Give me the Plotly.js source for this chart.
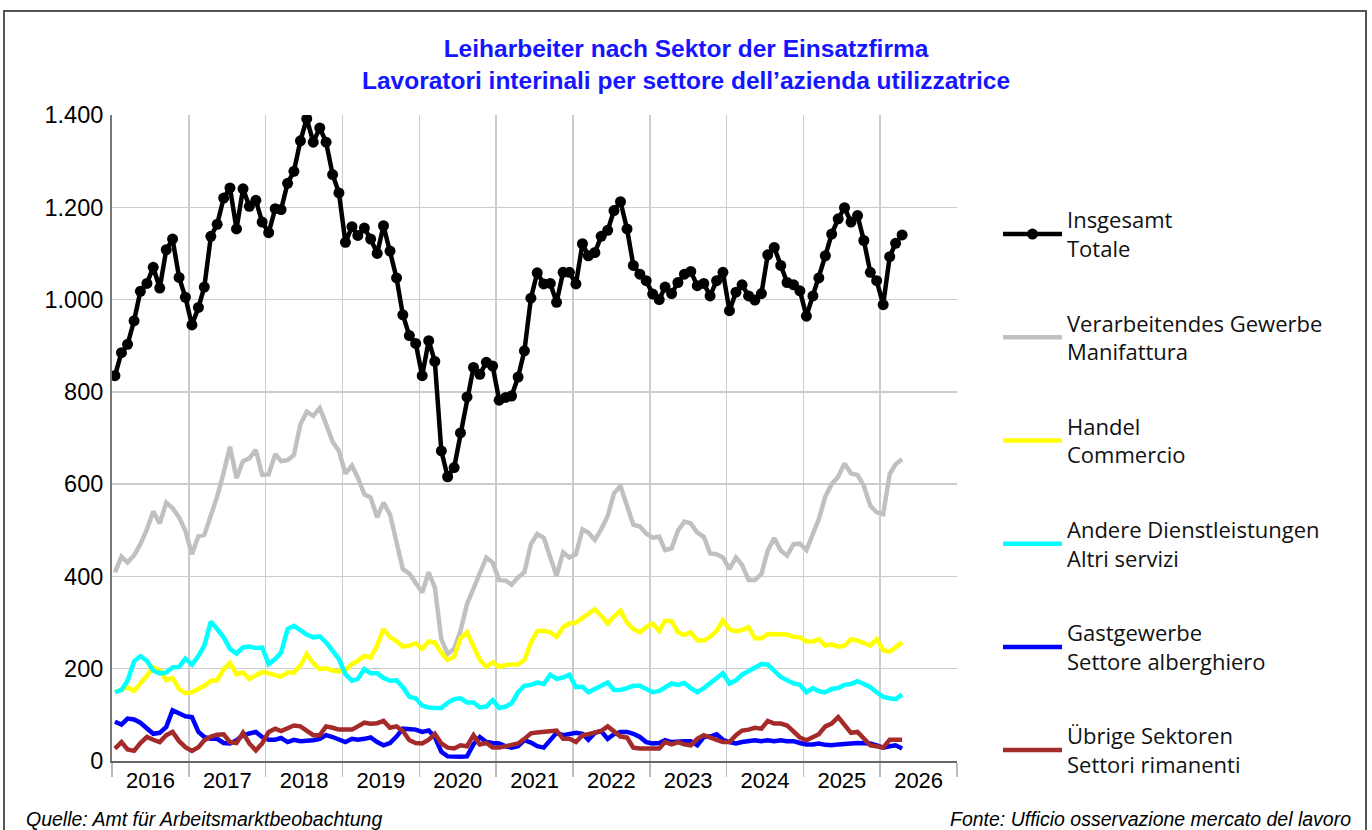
<!DOCTYPE html>
<html>
<head>
<meta charset="utf-8">
<script src="https://cdn.plot.ly/plotly-3.0.1.min.js"></script>
<style>
  html, body { margin: 0; padding: 0; background: #ffffff; }
  #wrap { position: relative; width: 1372px; height: 830px; overflow: hidden; }
  #frame { position: absolute; left: 3px; top: 10px; width: 1364px; height: 840px; border: 2px solid #555555; box-sizing: border-box; pointer-events: none; }
  #chart { position: absolute; left: 0; top: 0; width: 1372px; height: 830px; }
</style>
</head>
<body>
<div id="wrap">
  <div id="chart"></div>
  <div id="frame"></div>
</div>
<script>
// Monthly series, January 2016 - April 2026
const startYear = 2016;
const monthCount = 124;

const total = [835,885,903,954,1018,1035,1070,1025,1108,1131,1048,1005,
  945,983,1027,1137,1163,1220,1242,1153,1240,1202,1215,1168,
  1145,1197,1195,1252,1278,1344,1392,1341,1372,1341,1271,1231,
  1124,1158,1139,1155,1131,1100,1160,1105,1047,967,922,905,
  835,911,866,672,616,636,711,789,853,838,864,856,
  782,788,791,832,889,1003,1058,1034,1035,994,1059,1059,
  1034,1121,1095,1102,1137,1150,1193,1212,1153,1074,1055,1041,
  1012,1000,1027,1013,1037,1055,1061,1030,1035,1008,1041,1059,
  976,1016,1032,1008,999,1013,1097,1113,1074,1037,1032,1019,
  964,1008,1047,1095,1142,1175,1199,1168,1182,1128,1059,1041,
  989,1093,1122,1140];

const manufacturing = [409,443,430,446,470,502,541,515,560,548,528,499,
  448,487,490,531,573,625,681,613,650,656,674,620,
  621,665,650,652,663,730,757,748,765,730,692,672,
  623,640,614,578,571,528,560,534,470,416,406,387,
  365,409,376,264,232,243,282,340,376,409,441,430,
  392,391,382,398,409,470,492,484,441,401,452,441,
  448,502,495,479,502,531,580,596,553,512,508,493,
  484,486,457,461,499,519,515,495,486,450,448,441,
  416,441,425,392,392,405,456,483,456,445,470,471,
  457,492,524,573,600,616,645,623,620,596,553,539,
  535,622,643,654];

const trade = [149,156,160,152,167,185,203,196,175,180,156,147,
  149,156,163,174,175,199,212,188,192,178,187,193,
  190,186,183,192,192,207,232,212,199,201,196,194,
  197,210,217,228,224,250,286,268,260,248,250,255,
  243,259,257,235,219,226,266,279,246,219,204,214,
  204,208,209,209,219,257,281,282,279,269,290,298,
  300,311,320,329,315,298,313,326,300,286,279,290,
  298,282,304,303,279,273,279,262,261,269,282,305,
  286,281,284,290,266,266,275,274,273,274,269,268,
  259,259,264,250,253,248,250,264,261,255,250,264,
  240,237,246,257];

const otherServices = [149,154,174,216,227,217,196,190,192,203,204,222,
  209,228,250,302,286,268,243,233,246,248,245,246,
  210,221,235,286,293,282,274,268,270,257,240,221,
  188,174,178,199,190,190,180,174,175,160,139,136,
  120,116,115,115,126,134,136,127,127,116,118,132,
  115,118,125,149,163,165,170,167,187,178,181,187,
  160,161,149,156,163,170,154,154,158,163,163,156,
  149,152,161,168,165,169,158,149,158,168,181,190,
  168,175,187,194,203,210,209,197,182,175,168,165,
  149,158,151,149,156,158,165,167,173,167,160,149,
  139,136,134,144];

const hospitality = [85,79,92,90,83,70,59,61,74,110,104,97,
  95,63,52,48,48,39,38,45,56,59,63,52,
  46,46,50,41,46,43,43,45,48,56,52,46,
  41,48,46,48,51,41,34,39,53,70,70,68,
  63,66,52,20,10,9,9,10,36,52,41,39,
  38,32,29,32,45,40,32,29,46,61,56,58,
  61,59,46,61,65,48,58,63,63,59,52,41,
  38,39,45,41,43,43,43,34,52,53,58,46,
  41,38,41,43,45,43,45,43,45,43,43,39,
  36,36,38,35,34,36,38,38,39,39,38,34,
  29,32,34,27];

const otherSectors = [27,41,25,22,39,52,46,41,56,63,43,30,
  22,30,45,53,57,58,41,39,61,38,23,38,
  63,70,65,72,77,75,65,56,56,75,72,68,
  68,68,75,83,81,82,87,72,75,65,45,39,
  38,46,59,38,29,27,34,32,56,36,39,29,
  29,32,36,38,48,60,62,63,66,66,48,48,
  41,56,58,61,65,75,63,53,51,29,27,27,
  27,27,41,36,41,36,34,48,56,52,46,41,
  41,56,66,68,72,70,87,81,81,77,65,51,
  45,53,58,75,81,95,77,61,63,48,34,32,
  29,46,47,46];

const seriesNames = [
  "Insgesamt<br>Totale",
  "Verarbeitendes Gewerbe<br>Manifattura",
  "Handel<br>Commercio",
  "Andere Dienstleistungen<br>Altri servizi",
  "Gastgewerbe<br>Settore alberghiero",
  "Übrige Sektoren<br>Settori rimanenti"
];
const seriesColors = ["#000000", "#c0c0c0", "#ffff00", "#00ffff", "#0000ff", "#a52a2a"];

// month axis (mid-month positions)
const months = [];
for (let k = 0; k < monthCount; k++) {
  const y = startYear + Math.floor(k / 12);
  const m = (k % 12) + 1;
  months.push(y + "-" + (m < 10 ? "0" + m : m) + "-15");
}

const values = [total, manufacturing, trade, otherServices, hospitality, otherSectors];

function lineTrace(idx) {
  return {
    type: "scatter",
    mode: "lines",
    x: months,
    y: values[idx],
    name: seriesNames[idx],
    legendgroup: "g" + idx,
    legendrank: idx + 1,
    line: { color: seriesColors[idx], width: 4.5 },
    hoverinfo: "x+y+name"
  };
}

const traces = [1, 2, 3, 4, 5].map(lineTrace);
traces.push({
  type: "scatter",
  mode: "lines+markers",
  x: months,
  y: total,
  name: seriesNames[0],
  legendgroup: "g0",
  legendrank: 1,
  line: { color: "#000000", width: 4.5 },
  marker: { color: "#000000", size: 11, symbol: "circle" }
});

const W = 1372, H = 830;
const L = 112, R = W - 957, T = 115, B = H - 761;

const layout = {
  width: W,
  height: H,
  margin: { l: L, r: R, t: T, b: B, pad: 0 },
  paper_bgcolor: "#ffffff",
  plot_bgcolor: "#ffffff",
  separators: ",.",
  font: { family: "Liberation Sans, Arial, sans-serif", color: "#000000", size: 20 },
  title: {
    text: "Leiharbeiter nach Sektor der Einsatzfirma<br>Lavoratori interinali per settore dell’azienda utilizzatrice",
    font: { family: "Liberation Sans, Arial, sans-serif", size: 24.5, color: "#1515ff", weight: "bold" },
    x: 0.5, xref: "container", xanchor: "center",
    y: 1 - 57 / H, yref: "container", yanchor: "top"
  },
  xaxis: {
    type: "date",
    range: ["2016-01-01", "2027-01-01"],
    tick0: "2016-01-01",
    dtick: "M12",
    tickformat: "%Y",
    ticklabelmode: "period",
    showgrid: true,
    gridcolor: "#cccccc",
    gridwidth: 1.5,
    ticks: "outside",
    ticklen: 14,
    tickwidth: 1.5,
    tickcolor: "#bbbbbb",
    ticklabelstandoff: -15,
    showline: true,
    linecolor: "#666666",
    linewidth: 2,
    zeroline: false,
    tickfont: { size: 22, color: "#000000" },
    fixedrange: true
  },
  yaxis: {
    range: [0, 1400],
    dtick: 200,
    tick0: 0,
    tickformat: ",d",
    showgrid: true,
    gridcolor: "#cccccc",
    gridwidth: 1.5,
    ticks: "",
    showline: true,
    linecolor: "#777777",
    linewidth: 2,
    zeroline: false,
    tickfont: { size: 23.5, color: "#000000" },
    ticklabelstandoff: 2,
    fixedrange: true
  },
  showlegend: true,
  legend: {
    x: (998 - L) / (957 - L),
    xanchor: "left",
    y: (761 - 199) / (761 - 115),
    yanchor: "top",
    traceorder: "grouped",
    tracegroupgap: 43,
    itemwidth: 59,
    font: { family: "Open Sans, sans-serif", size: 22, color: "#111111" },
    bgcolor: "rgba(0,0,0,0)",
    borderwidth: 0,
    valign: "middle"
  },
  annotations: [
    {
      text: "<i>Quelle: Amt für Arbeitsmarktbeobachtung</i>",
      xref: "paper", yref: "paper",
      x: (24 - L) / (957 - L), xanchor: "left",
      y: (761 - 806) / (761 - 115), yanchor: "top",
      showarrow: false,
      font: { family: "Liberation Sans, Arial, sans-serif", size: 19.5, color: "#000000" }
    },
    {
      text: "<i>Fonte: Ufficio osservazione mercato del lavoro</i>",
      xref: "paper", yref: "paper",
      x: (1353 - L) / (957 - L), xanchor: "right",
      y: (761 - 806) / (761 - 115), yanchor: "top",
      showarrow: false,
      font: { family: "Liberation Sans, Arial, sans-serif", size: 19.5, color: "#000000" }
    }
  ]
};

Plotly.newPlot("chart", traces, layout, { displayModeBar: false, staticPlot: true });
</script>
</body>
</html>
